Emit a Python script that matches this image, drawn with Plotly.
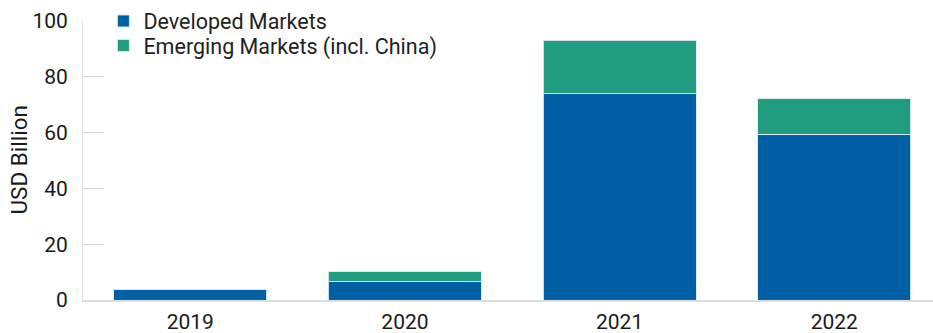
import plotly.graph_objects as go

years = ["2019", "2020", "2021", "2022"]
developed = [3.9, 6.5, 73.9, 59.5]
emerging = [0.0, 3.7, 19.2, 12.6]
y_ticks = [0, 20, 40, 60, 80, 100]
y_title = "USD Billion"

DM_COLOR = "#0060A6"
EM_COLOR = "#1F9D7E"
FONT = "Roboto"
BORDER = "rgba(220,235,245,0.9)"

fig = go.Figure()
fig.add_trace(go.Bar(x=years, y=developed, name="Developed Markets", legend="legend",
                     marker=dict(color=DM_COLOR, line=dict(color=BORDER, width=1))))
fig.add_trace(go.Bar(x=years, y=emerging, name="Emerging Markets (incl. China)", legend="legend2",
                     marker=dict(color=EM_COLOR, line=dict(color=BORDER, width=1))))

legend_common = dict(xanchor="left", yanchor="top", font=dict(size=21.5, color="#222"),
                     bgcolor="rgba(0,0,0,0)", itemwidth=30)

fig.update_layout(
    barmode="stack",
    bargap=0.287,
    width=933, height=333,
    margin=dict(l=83, r=0, t=21, b=33, autoexpand=False),
    plot_bgcolor="white", paper_bgcolor="white",
    font=dict(family=FONT, size=21, color="#1a1a1a"),
    showlegend=True,
    legend=dict(x=0.024, y=1.0735, **legend_common),
    legend2=dict(x=0.024, y=0.9857, **legend_common),
    xaxis=dict(type="category", range=[-0.5, 3.46], showline=True, linecolor="#dcdcdc",
               linewidth=2, ticks="", showgrid=False, tickfont=dict(size=21),
               automargin=False, ticklabelstandoff=2),
    yaxis=dict(range=[0, 100], tickvals=y_ticks, showline=True, linecolor="#e2e2e2",
               linewidth=1, ticks="inside", ticklen=21, tickcolor="#d4d4d4", tickwidth=1,
               showgrid=False, zeroline=False, tickfont=dict(size=21),
               ticklabelstandoff=10, automargin=False),
    annotations=[dict(text=y_title, textangle=-90, xref="paper", yref="paper",
                      x=-65 / 850, y=0.5, xanchor="center", yanchor="middle",
                      showarrow=False, font=dict(size=22.5, color="#1a1a1a"))],
)

fig.write_html("out.html", config={"displayModeBar": False},
               post_script="document.body.style.margin='0px';document.body.style.overflow='hidden';")
